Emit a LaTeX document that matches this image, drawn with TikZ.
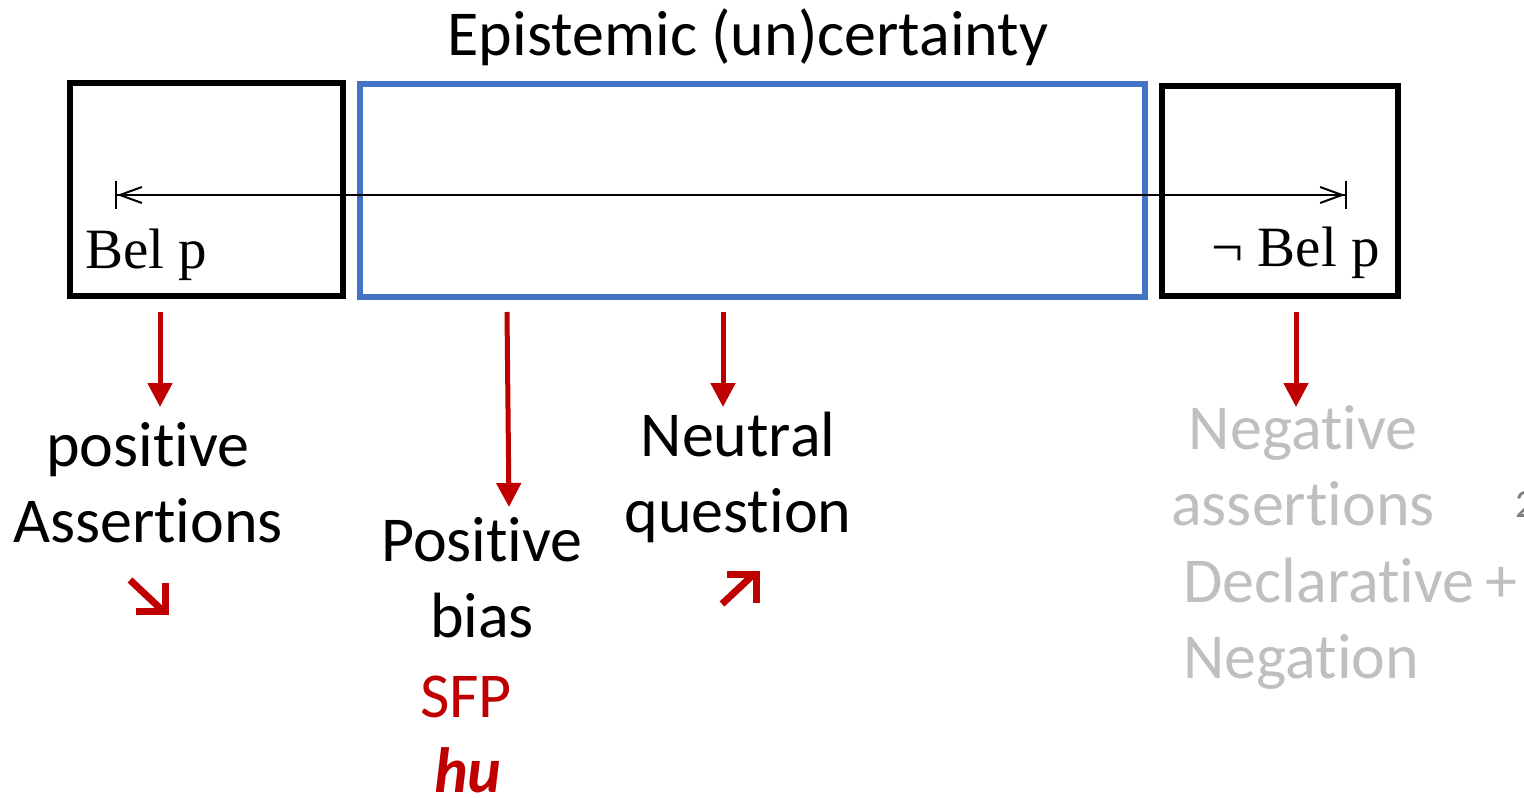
\documentclass[tikz,border=0pt]{standalone}
\usepackage{fontspec}
\setmainfont{Carlito}
\newfontfamily\timesf{Liberation Serif}
\newcommand\myti{t\kern0pt i}
\usetikzlibrary{arrows.meta}
\definecolor{dred}{HTML}{C00000}
\definecolor{bblue}{HTML}{4472C4}
\definecolor{lgray}{HTML}{BFBFBF}
\definecolor{mgray}{HTML}{7F7F7F}
\tikzset{
  txt/.style={font=\fontsize{32}{38}\selectfont, align=center, inner sep=0pt},
  bel/.style={font=\timesf\fontsize{28.5}{34}\selectfont, inner sep=0pt},
  redarrow/.style={draw=dred, line width=2.5pt, -{Triangle[length=12pt,width=12pt]}},
  bigbox/.style={draw, line width=3pt, inner sep=0pt},
  symarrow/.style={draw=dred, line width=3.5pt, line join=miter}
}
\begin{document}
\begin{tikzpicture}[x=0.5pt,y=-0.5pt]
\useasboundingbox (0,0) rectangle (1524,797);
% boxes
\node[bigbox, minimum width=136.5pt, minimum height=106.5pt] (lbox) at (206.5,189.5) {};
\node[bigbox, draw=bblue, line width=2.6pt, minimum width=392.5pt, minimum height=106.5pt] (mbox) at (752.5,190.5) {};
\node[bigbox, minimum width=118pt, minimum height=105pt] (rbox) at (1280,191) {};
% title
\node[txt] (title) at (748,37) {Epistemic (un)certainty};
% scale line
\coordinate (sL) at (115,195);
\coordinate (sR) at (1347,195);
\draw[line width=1pt, {Bar[width=14pt]Straight Barb[length=11pt,width=8pt]}-{Straight Barb[length=11pt,width=8pt]Bar[width=14pt]}] (sL) -- (sR);
\node[bel, anchor=base west] (belp) at (85,268) {Bel p};
\node[bel, anchor=base east] (nbelp) at (1380,266) {¬ Bel p};
% red arrows
\coordinate (a1s) at (160,312); \coordinate (a1e) at (160,407);
\coordinate (a2s) at (507,312); \coordinate (a2e) at (509,507);
\coordinate (a3s) at (723,312); \coordinate (a3e) at (723,407);
\coordinate (a4s) at (1296,312); \coordinate (a4e) at (1296,407);
\draw[redarrow] (a1s) -- (a1e);
\draw[redarrow] (a2s) -- (a2e);
\draw[redarrow] (a3s) -- (a3e);
\draw[redarrow] (a4s) -- (a4e);
% labels
\node[txt] (pos) at (148,483) {posi\myti ve\\Asser\myti ons};
\node[txt] (pb) at (482,578) {Posi\myti ve\\bias};
\node[txt, text=dred] (sfp) at (466,697) {SFP};
\node[txt, text=dred, font=\fontsize{32}{38}\selectfont\bfseries\itshape] (hu) at (468,770) {hu};
\node[txt] (nq) at (738,477) {Neutral\\ques\myti on};
\node[txt, text=lgray] (neg) at (1303,466) {Nega\myti ve\\asser\myti ons};
\node[txt, text=lgray, align=left, anchor=west] (decl) at (1183,624) {Declara\myti ve\,+\\Nega\myti on};
\node[txt, text=mgray, font=\fontsize{20}{24}\selectfont, anchor=west] (two) at (1515,505) {2};
% intonation arrows
\draw[symarrow] (130,580) -- (163,611);
\draw[symarrow] (136,611) -- (165,611) -- (165,583);
\draw[symarrow] (722,604) -- (754,574);
\draw[symarrow] (727,574) -- (756,574) -- (756,603);
\end{tikzpicture}
\end{document}
